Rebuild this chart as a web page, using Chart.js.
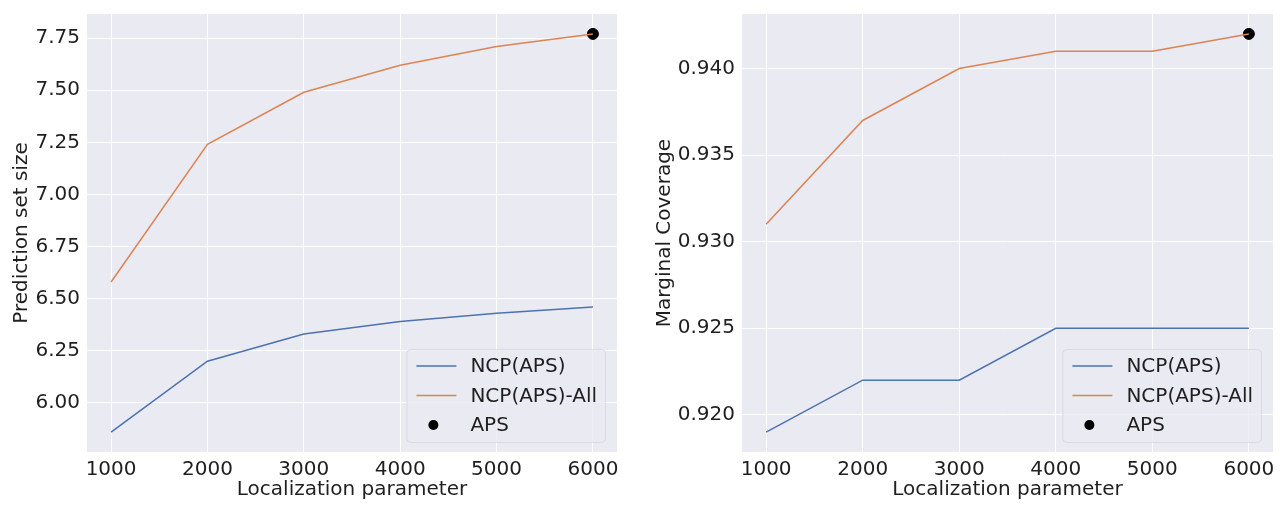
<!DOCTYPE html>
<html>
<head>
<meta charset="utf-8">
<script src="https://cdn.jsdelivr.net/npm/chart.js@4"></script>
<style>
  body { margin: 0; background: #ffffff; width: 1280px; height: 515px; overflow: hidden; }
  .box { position: absolute; top: 0; }
</style>
</head>
<body>
<div class="box" style="left:0px"><canvas id="sizeChart" width="630" height="515"></canvas></div>
<div class="box" style="left:640px"><canvas id="coverageChart" width="640" height="515"></canvas></div>
<script>
const localizacao = [1000, 2000, 3000, 4000, 5000, 6000];
const xTicks = [1000, 2000, 3000, 4000, 5000, 6000];

const tamanhoNCP = [5.86, 6.20, 6.33, 6.39, 6.43, 6.46];
const tamanhoNCPAll = [6.58, 7.24, 7.49, 7.62, 7.71, 7.77];
const tamanhoAPS = [7.77];
const ticksTamanho = [6.00, 6.25, 6.50, 6.75, 7.00, 7.25, 7.50, 7.75];

const coberturaNCP = [0.919, 0.922, 0.922, 0.925, 0.925, 0.925];
const coberturaNCPAll = [0.931, 0.937, 0.940, 0.941, 0.941, 0.942];
const coberturaAPS = [0.942];
const ticksCobertura = [0.920, 0.925, 0.930, 0.935, 0.940];

const apsX = [6000];
const fonte = 'DejaVu Sans';
const corTexto = '#1f1f1f';
const tamFonte = 20;

function pontos(xs, ys) {
    return xs.map((x, i) => ({ x: x, y: ys[i] }));
}

// fundo cinza da area do grafico (estilo seaborn)
const fundoPlugin = {
    id: 'fundo',
    beforeDraw(chart) {
        const a = chart.chartArea;
        const ctx = chart.ctx;
        ctx.save();
        ctx.fillStyle = '#eaeaf2';
        ctx.fillRect(a.left, a.top, a.right - a.left, a.bottom - a.top);
        ctx.restore();
    }
};

// legenda desenhada dentro do grafico, canto inferior direito
const legendaPlugin = {
    id: 'legendaDentro',
    afterDraw(chart) {
        const a = chart.chartArea;
        const ctx = chart.ctx;
        const itens = chart.data.datasets;
        ctx.save();
        ctx.font = tamFonte + 'px ' + fonte;
        let maxW = 0;
        itens.forEach(d => { maxW = Math.max(maxW, ctx.measureText(d.label).width); });
        const w = 64 + maxW + 8;
        const h = 93;
        const right = a.right - 12;
        const bottom = a.bottom - 10;
        const left = right - w;
        const top = bottom - h;

        ctx.beginPath();
        ctx.roundRect(left + 0.5, top + 0.5, w, h, 4);
        ctx.fillStyle = 'rgba(234,234,242,0.8)';
        ctx.fill();
        ctx.strokeStyle = 'rgba(204,204,204,0.5)';
        ctx.lineWidth = 1;
        ctx.stroke();

        itens.forEach((d, i) => {
            const y = top + 17 + i * 29.5;
            if (d.showLine === false) {
                ctx.beginPath();
                ctx.arc(left + 27, y, 5, 0, Math.PI * 2);
                ctx.fillStyle = '#000000';
                ctx.fill();
            } else {
                ctx.beginPath();
                ctx.moveTo(left + 10, y);
                ctx.lineTo(left + 50, y);
                ctx.strokeStyle = d.borderColor;
                ctx.lineWidth = 1.5;
                ctx.stroke();
            }
            ctx.fillStyle = corTexto;
            ctx.textBaseline = 'middle';
            ctx.textAlign = 'left';
            ctx.fillText(d.label, left + 64, y + 1);
        });
        ctx.restore();
    }
};

function gerarGrafico(id, ncp, ncpAll, aps, yTicks, yMin, yMax, casas, titulo, yLargura, tituloPad, padDireita) {
    const ctx = document.getElementById(id).getContext('2d');
    return new Chart(ctx, {
        type: 'line',
        data: {
            datasets: [{
                label: 'NCP(APS)',
                data: pontos(localizacao, ncp),
                borderColor: '#4c72b0',
                borderWidth: 1.5,
                pointRadius: 0,
                tension: 0
            }, {
                label: 'NCP(APS)-All',
                data: pontos(localizacao, ncpAll),
                borderColor: '#dd8452',
                borderWidth: 1.5,
                pointRadius: 0,
                tension: 0
            }, {
                label: 'APS',
                data: pontos(apsX, aps),
                showLine: false,
                pointRadius: 5.5,
                pointBackgroundColor: '#000000',
                pointBorderColor: '#000000',
                borderColor: '#000000'
            }]
        },
        options: {
            responsive: false,
            animation: false,
            layout: { padding: { top: 14, right: padDireita, left: 0, bottom: 0 } },
            plugins: {
                legend: { display: false },
                tooltip: { enabled: false }
            },
            scales: {
                x: {
                    type: 'linear',
                    min: 750,
                    max: 6250,
                    afterBuildTicks: s => { s.ticks = xTicks.map(v => ({ value: v })); },
                    afterFit: s => { s.height = 63; s.paddingLeft = 0; s.paddingRight = 0; },
                    grid: { color: '#ffffff', lineWidth: 1, drawTicks: false },
                    border: { display: false },
                    ticks: { color: corTexto, font: { family: fonte, size: tamFonte }, padding: 6, maxRotation: 0,
                             callback: v => String(v) },
                    title: { display: true, text: 'Localization parameter', color: corTexto,
                             font: { family: fonte, size: tamFonte }, padding: { top: 0, bottom: 13 } }
                },
                y: {
                    type: 'linear',
                    min: yMin,
                    max: yMax,
                    afterBuildTicks: s => { s.ticks = yTicks.map(v => ({ value: v })); },
                    afterFit: s => { s.width = yLargura; s.paddingTop = 0; s.paddingBottom = 0; },
                    grid: { color: '#ffffff', lineWidth: 1, drawTicks: false },
                    border: { display: false },
                    ticks: { color: corTexto, font: { family: fonte, size: tamFonte }, padding: 7,
                             callback: v => v.toFixed(casas) },
                    title: { display: true, text: titulo, color: corTexto,
                             font: { family: fonte, size: tamFonte }, padding: { top: tituloPad, bottom: 0 } }
                }
            }
        },
        plugins: [fundoPlugin, legendaPlugin]
    });
}

gerarGrafico('sizeChart', tamanhoNCP, tamanhoNCPAll, tamanhoAPS, ticksTamanho,
    5.7645, 7.8655, 2, 'Prediction set size', 87, 10, 13);
gerarGrafico('coverageChart', coberturaNCP, coberturaNCPAll, coberturaAPS, ticksCobertura,
    0.91785, 0.94315, 3, 'Marginal Coverage', 102, 13, 7);
</script>
</body>
</html>
